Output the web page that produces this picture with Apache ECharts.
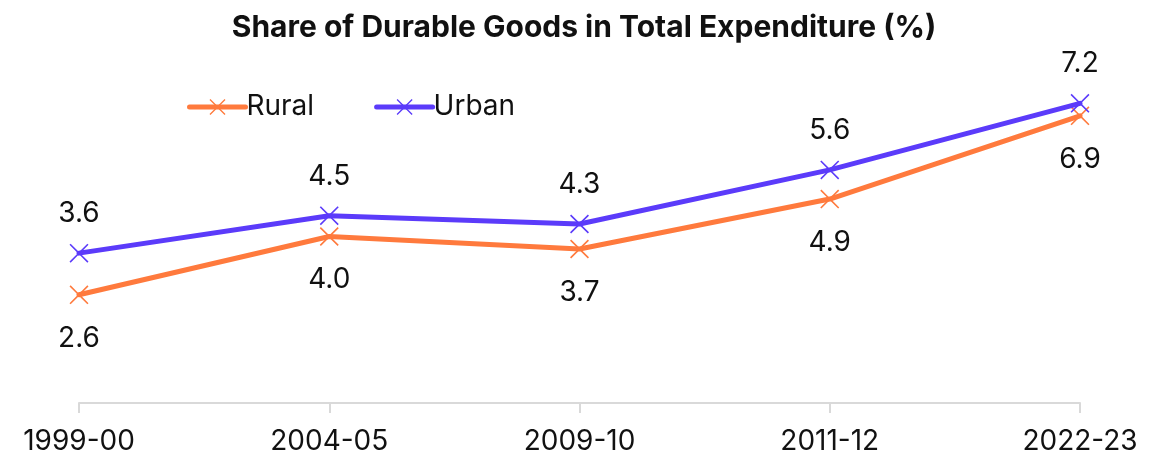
<!DOCTYPE html>
<html><head><meta charset="utf-8">
<script src="https://cdn.jsdelivr.net/npm/echarts@6/dist/echarts.min.js"></script>
<style>html,body{margin:0;padding:0;background:#fff}#c{width:1168px;height:462px}</style>
</head><body><div id="c"></div>
<script>
const categories = ['1999-00','2004-05','2009-10','2011-12','2022-23'];
const rural = [2.6, 4.0, 3.7, 4.9, 6.9];
const urban = [3.6, 4.5, 4.3, 5.6, 7.2];
const FONT = 'Inter';
const X = 'path://M0,6L6,0L50,44L94,0L100,6L56,50L100,94L94,100L50,56L6,100L0,94L44,50Z';
const chart = echarts.init(document.getElementById('c'));
function mk(name, data, color, pos, dist){
  return {
    name, type:'line', data, symbol:X, symbolSize:19, symbolKeepAspect:true,
    lineStyle:{width:5,color,cap:'round'}, itemStyle:{color},
    label:{show:true,position:pos,distance:dist,formatter:p=>p.value.toFixed(1),
      fontFamily:FONT,fontSize:28,color:'#111'},
    z: name==='Urban'?3:2
  };
}
chart.setOption({
  animation:false,
  title:{text:'Share of Durable Goods in Total Expenditure (%)',left:'center',top:8,
    textStyle:{fontFamily:FONT,fontWeight:'bold',fontSize:30,color:'#111'}},
  legend:{left:182,top:88,itemWidth:56,itemHeight:20,itemGap:60,
    lineStyle:{width:5,cap:'round'},
    textStyle:{fontFamily:FONT,fontSize:28,color:'#111',padding:[0,0,0,-4]},
    data:['Rural','Urban']},
  grid:{left:79,right:88,top:70,bottom:59},
  xAxis:{type:'category',data:categories,boundaryGap:false,
    axisLine:{lineStyle:{color:'#d9d9d9',width:2}},
    axisTick:{show:true,length:10,lineStyle:{color:'#d9d9d9',width:2}},
    axisLabel:{fontFamily:FONT,fontSize:28,color:'#111',margin:25}},
  yAxis:{type:'value',min:0,max:8,show:false,splitLine:{show:false}},
  series:[mk('Rural',rural,'#FF7A3D','bottom',20), mk('Urban',urban,'#5B3BFA','top',16)]
});
</script></body></html>
